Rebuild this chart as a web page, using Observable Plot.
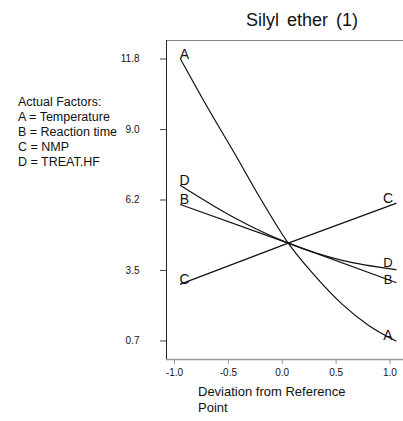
<!DOCTYPE html>
<html>
<head>
<meta charset="utf-8">
<script src="https://cdn.jsdelivr.net/npm/d3@7"></script>
<script src="https://cdn.jsdelivr.net/npm/@observablehq/plot@0.6"></script>
<style>
  html, body { margin: 0; padding: 0; background: #fff; }
  #wrap { position: relative; width: 403px; height: 421px; overflow: hidden; font-family: "Liberation Sans", Arial, sans-serif; color: #111; }
  #wrap svg { position: absolute; left: 0; top: 0; }
  .title { position: absolute; left: 302px; top: 9px; transform: translateX(-50%); font-size: 18px; line-height: 22px; white-space: nowrap; word-spacing: 3px; }
  .legend { position: absolute; left: 18px; top: 95px; font-size: 12.5px; line-height: 15px; white-space: nowrap; }
  .xtitle { position: absolute; left: 198px; top: 384px; font-size: 13px; line-height: 16px; white-space: nowrap; }
</style>
</head>
<body>
<div id="wrap">
  <div class="title">Silyl ether (1)</div>
  <div class="legend">Actual Factors:<br>A = Temperature<br>B = Reaction time<br>C = NMP<br>D = TREAT.HF</div>
  <div class="xtitle">Deviation from Reference<br>Point</div>
</div>
<script>
// Deviation from reference point (x) and predicted response for each factor
const xA = [-1, -0.75, -0.5, -0.25, 0, 0.25, 0.5, 0.75, 1];
const factorA = [11.8, 9.9, 8.1, 6.25, 4.55, 3.25, 2.15, 1.3, 0.7];
const xB = [-1, 0, 1];
const factorB = [6.07, 4.55, 3.0];
const xC = [-1, 0, 1];
const factorC = [2.94, 4.55, 6.12];
const xD = [-1, -0.5, 0, 0.5, 1];
const factorD = [6.82, 5.55, 4.55, 3.87, 3.51];

const xTicks = [-1, -0.5, 0, 0.5, 1];
const xTickLabels = ["-1.0", "-0.5", "0.0", "0.5", "1.0"];
const yTicks = [0.7, 3.475, 6.25, 9.025, 11.8];
const yTickLabels = ["0.7", "3.5", "6.2", "9.0", "11.8"];

const series = [
  {name: "A", xs: xA, ys: factorA},
  {name: "B", xs: xB, ys: factorB},
  {name: "C", xs: xC, ys: factorC},
  {name: "D", xs: xD, ys: factorD}
];
const rows = series.flatMap(s => s.xs.map((x, i) => ({factor: s.name, x, y: s.ys[i]})));
const leftEnds = series.map(s => ({factor: s.name, x: s.xs[0], y: s.ys[0]}));
const rightEnds = series.map(s => ({factor: s.name, x: s.xs[s.xs.length - 1], y: s.ys[s.ys.length - 1]}));

const chart = Plot.plot({
  width: 403,
  height: 421,
  marginLeft: 166,
  marginRight: 0,
  marginTop: 40,
  marginBottom: 62,
  style: {fontFamily: "'Liberation Sans', Arial, sans-serif", fontSize: "10px", background: "transparent", color: "#111"},
  x: {domain: [-1.13, 1.07]},
  y: {domain: [-0.03, 12.53]},
  marks: [
    Plot.ruleY([12.53], {stroke: "#888", strokeWidth: 1}),
    Plot.ruleY([-0.03], {stroke: "#999", strokeWidth: 1.5}),
    Plot.ruleX([-1.13], {stroke: "#222", strokeWidth: 1}),
    Plot.axisY({ticks: yTicks, tickSize: 6, tickPadding: 21, tickFormat: d => yTickLabels[yTicks.indexOf(d)], label: null, stroke: "#444", fill: "#111"}),
    Plot.axisX({ticks: xTicks, tickSize: 5, tickPadding: 4, tickFormat: d => xTickLabels[xTicks.indexOf(d)], label: null, stroke: "#999", fill: "#111", dx: -6}),
    Plot.line(rows, {x: "x", y: "y", z: "factor", stroke: "#111", strokeWidth: 1.2, curve: "monotone-x"}),
    Plot.text(leftEnds, {x: "x", y: "y", text: "factor", dx: 4, dy: -5, fontSize: 14, fill: "#111"}),
    Plot.text(rightEnds.filter(d => d.factor !== "B" && d.factor !== "D"), {x: "x", y: "y", text: "factor", dx: -8, dy: -5, fontSize: 14, fill: "#111"}),
    Plot.text(rightEnds.filter(d => d.factor === "D"), {x: "x", y: "y", text: "factor", dx: -8, dy: -7, fontSize: 13, fill: "#111"}),
    Plot.text(rightEnds.filter(d => d.factor === "B"), {x: "x", y: "y", text: "factor", dx: -8, dy: -3, fontSize: 13, fill: "#111"})
  ]
});
document.getElementById("wrap").prepend(chart);
</script>
</body>
</html>
